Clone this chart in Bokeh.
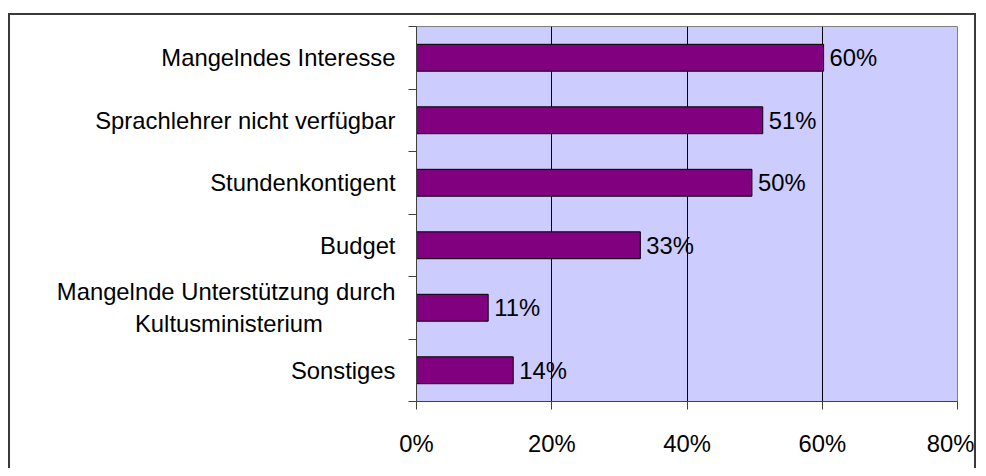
from bokeh.plotting import figure
from bokeh.models import ColumnDataSource, FixedTicker, NumeralTickFormatter, Range1d
from bokeh.core.properties import value
from bokeh.embed import file_html
from bokeh.resources import INLINE

categories = ["Mangelndes Interesse", "Sprachlehrer nicht verfügbar", "Stundenkontigent",
              "Budget", "Mangelnde Unterstützung durch\nKultusministerium" + "\u00a0" * 11, "Sonstiges"]
shares = [0.602, 0.512, 0.496, 0.331, 0.106, 0.143]
x_ticks = [0.0, 0.2, 0.4, 0.6, 0.8]

n = len(categories)
ypos = [n - i - 0.5 for i in range(n)]
labels = [f"{round(v * 100)}%" for v in shares]
src = ColumnDataSource(dict(y=ypos, v=shares, lbl=labels))

FONT = "Liberation Sans"
FS = "23.8px"

p = figure(width=968, height=455, output_backend="svg", toolbar_location=None,
           x_range=Range1d(0, 0.8), y_range=Range1d(0, n),
           min_border_left=406, min_border_right=21, min_border_top=11, min_border_bottom=69,
           background_fill_color="#CCCCFF", border_fill_color="white",
           outline_line_color="#808080", outline_line_width=1,
           styles={"border-top": "2px solid #3a3a3a", "border-left": "2px solid #3a3a3a",
                   "border-right": "2px solid #3a3a3a",
                   "margin-top": "13px", "margin-left": "8px"})

p.hbar(y="y", right="v", left=0, height=0.43, source=src,
       fill_color="#800080", line_color="black", line_width=1)
p.text(x="v", y="y", text="lbl", source=src, x_offset=6, text_baseline="middle",
       text_align="left", text_font=value(FONT), text_font_size=FS, text_color="black")

# x axis
xa = p.xaxis[0]
xa.ticker = FixedTicker(ticks=x_ticks)
xa.formatter = NumeralTickFormatter(format="0%")
xa.major_tick_out = 8
xa.major_tick_in = 0
xa.minor_tick_out = 0
xa.minor_tick_in = 0
xa.axis_line_color = "#404040"
xa.major_tick_line_color = "#404040"
xa.major_label_text_font = FONT
xa.major_label_text_font_size = FS
xa.major_label_text_color = "black"
xa.major_label_standoff = 20

# y axis: labels at category centers, ticks at category boundaries
ya = p.yaxis[0]
ya.ticker = FixedTicker(ticks=ypos, minor_ticks=list(range(n + 1)))
ya.major_label_overrides = {y: c for y, c in zip(ypos, categories)}
ya.major_tick_out = 0
ya.major_tick_in = 0
ya.minor_tick_out = 8
ya.minor_tick_in = 0
ya.minor_tick_line_color = "#404040"
ya.axis_line_color = "#404040"
ya.major_label_text_font = FONT
ya.major_label_text_font_size = FS
ya.major_label_text_color = "black"
ya.major_label_standoff = 13

p.ygrid.grid_line_color = None
p.xgrid.ticker = FixedTicker(ticks=[0.2, 0.4, 0.6])
p.xgrid.grid_line_color = "black"
p.xgrid.grid_line_width = 1

open("out.html", "w").write(file_html(p, INLINE))
